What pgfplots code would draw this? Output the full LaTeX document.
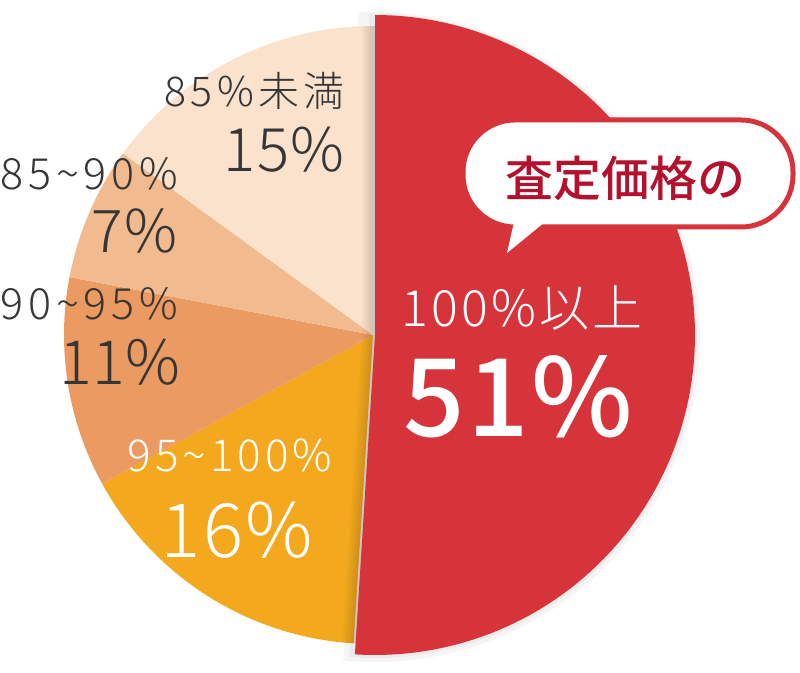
\documentclass[border=0pt]{standalone}
\usepackage{pgfplots}
\pgfplotsset{compat=1.18}
\usepackage{fontspec}
\IfFontExistsTF{Noto Sans CJK JP Light}
  {\setmainfont{Noto Sans CJK JP Light}}
  {\IfFontExistsTF{Noto Sans CJK JP DemiLight}
     {\setmainfont{Noto Sans CJK JP DemiLight}}
     {\setmainfont{Noto Sans CJK JP}}}
\IfFontExistsTF{Noto Sans CJK JP Medium}
  {\newfontfamily\cjkm{Noto Sans CJK JP Medium}\newfontfamily\bigfnt[LetterSpace=2]{Noto Sans CJK JP Medium}}
  {\newfontfamily\cjkm[FakeBold=1.3]{Noto Sans CJK JP}\newfontfamily\bigfnt[FakeBold=2,LetterSpace=2]{Noto Sans CJK JP}}
\newcommand\ls[1]{\addfontfeatures{LetterSpace=#1}}
\definecolor{cRed}{HTML}{D6333B}
\definecolor{cYel}{HTML}{F3A81E}
\definecolor{cA}{HTML}{EB9A61}
\definecolor{cB}{HTML}{F2BA8F}
\definecolor{cC}{HTML}{FAE2CC}
\definecolor{txt}{HTML}{363636}
\definecolor{callt}{HTML}{B3112E}
\begin{document}
\begin{tikzpicture}
\begin{axis}[x=1pt, y=1pt, xmin=-373, xmax=427, ymin=-337, ymax=335,
  hide axis, clip=false]
% soft shadow of the large slice
\addplot[fill=black, opacity=0.04, draw=none, domain={90-3.6*51-2}:93, samples=120] ({2+325*cos(x)},{-2+325*sin(x)}) -- (0,0) -- cycle;
\addplot[fill=black, opacity=0.04, draw=none, domain={90-3.6*51-1}:91, samples=120] ({2+322*cos(x)},{-1+322*sin(x)}) -- (0,0) -- cycle;
% slices: 51, 16, 11, 7, 15 percent, clockwise from 12 o'clock
\addplot[fill=cYel, draw=none, domain={90-3.6*(51+16)}:{90-3.6*51}, samples=60] ({309*cos(x)},{309*sin(x)}) -- (0,0) -- cycle;
\addplot[fill=cA, draw=none, domain={90-3.6*(51+16+11)}:{90-3.6*(51+16)}, samples=60] ({309*cos(x)},{309*sin(x)}) -- (0,0) -- cycle;
\addplot[fill=cB, draw=none, domain={90-3.6*(51+16+11+7)}:{90-3.6*(51+16+11)}, samples=60] ({309*cos(x)},{309*sin(x)}) -- (0,0) -- cycle;
\addplot[fill=cC, draw=none, domain={90-3.6*(51+16+11+7+15)}:{90-3.6*(51+16+11+7)}, samples=60] ({309*cos(x)},{309*sin(x)}) -- (0,0) -- cycle;
% shadow cast by the large slice on its neighbours
\begin{scope}
\clip (0,0) circle[radius=309pt];
\pgfplotsinvokeforeach{2,4,6,8,10,12,14}{
  \fill[black, opacity=0.025] (3,330) -- (3,0) -- (-18,-330) -- ({-18-#1},-330) -- ({3-#1},0) -- ({3-#1},330) -- cycle;
}
\end{scope}
\addplot[fill=cRed, draw=none, domain={90-3.6*51}:90, samples=120] ({2+320*cos(x)},{320*sin(x)}) -- (2,0) -- cycle;
% callout
\draw[cRed, line width=5pt, fill=white, rounded corners=52pt] (90,108) rectangle (420,215);
\fill[white] (141,113) -- (134,82) -- (172,113) -- cycle;
\node[text=callt, font=\fontsize{48}{52}\selectfont\cjkm, inner sep=0pt] at (252,157) {査定価格の};
% labels
\node[anchor=base east, text=txt, font=\fontsize{41}{44}\selectfont\ls{11}, inner sep=0pt] at (-28,228) {85\%未満};
\node[anchor=base east, text=txt, font=\fontsize{60}{64}\selectfont\ls{3}, inner sep=0pt] at (-28,163) {15\%};
\node[anchor=base east, text=txt, font=\fontsize{43}{46}\selectfont\ls{11}, inner sep=0pt] at (-195,145) {85\textasciitilde90\%};
\node[anchor=base east, text=txt, font=\fontsize{59}{64}\selectfont\ls{3}, inner sep=0pt] at (-195,82) {7\%};
\node[anchor=base east, text=txt, font=\fontsize{43}{46}\selectfont\ls{11}, inner sep=0pt] at (-195,15) {90\textasciitilde95\%};
\node[anchor=base east, text=txt, font=\fontsize{61}{64}\selectfont, inner sep=0pt] at (-193,-50) {11\%};
\node[anchor=base, text=white, font=\fontsize{44}{46}\selectfont\ls{9}, inner sep=0pt] at (-143,-137) {95\textasciitilde100\%};
\node[anchor=base, text=white, font=\fontsize{75}{80}\selectfont\ls{3}, inner sep=0pt] at (-136,-223) {16\%};
\node[anchor=base, text=white, font=\fontsize{50}{54}\selectfont\ls{6}, inner sep=0pt] at (149,8) {100\%以上};
\node[anchor=base, text=white, font=\fontsize{108}{112}\selectfont\bigfnt, inner sep=0pt] at (145,-102) {51\%};
\end{axis}
\pgfresetboundingbox
\path (current axis.south west) rectangle (current axis.north east);
\end{tikzpicture}
\end{document}
